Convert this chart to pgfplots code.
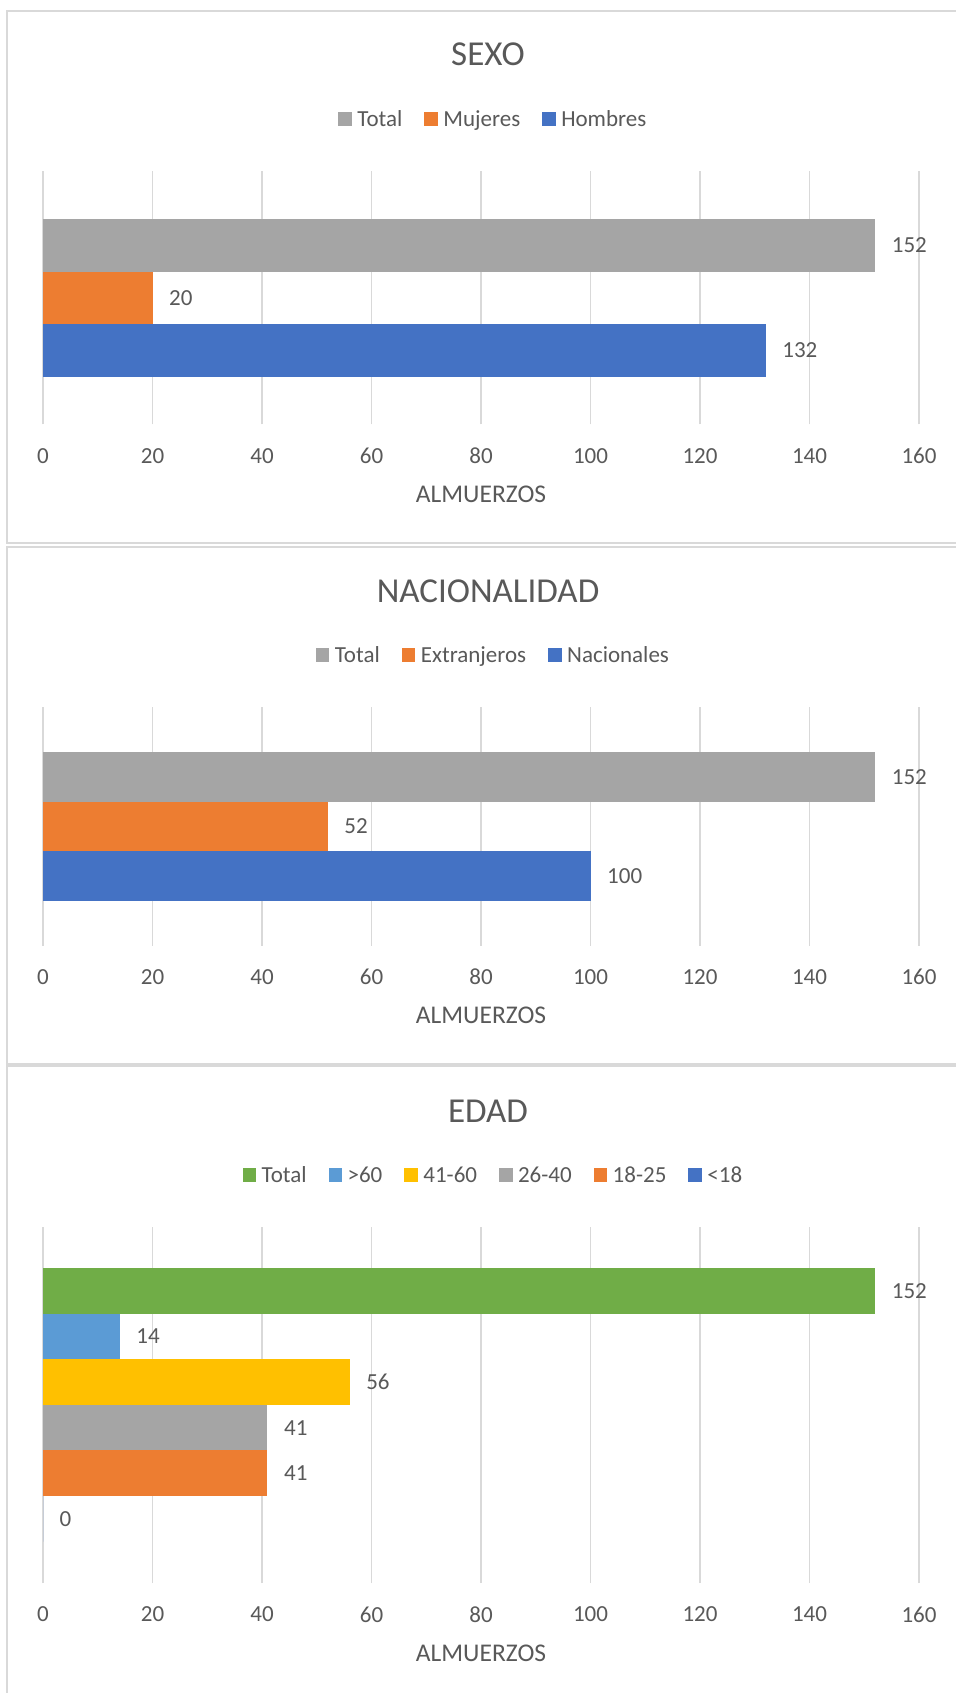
\documentclass[border=0pt]{standalone}
\usepackage{pgfplots}
\pgfplotsset{compat=1.18}
\usepackage{fontspec}
\setmainfont{Carlito}
\definecolor{txt}{HTML}{595959}
\definecolor{cgrid}{HTML}{D9D9D9}
\definecolor{cbord}{HTML}{D9D9D9}
\definecolor{cblue}{HTML}{4472C4}
\definecolor{corange}{HTML}{ED7D31}
\definecolor{cgray}{HTML}{A5A5A5}
\definecolor{cgold}{HTML}{FFC000}
\definecolor{clblue}{HTML}{5B9BD5}
\definecolor{cgreen}{HTML}{70AD47}
\newcommand\fsmall{\fontsize{23}{27}\selectfont}
\newcommand\flabel{\fontsize{25.5}{30}\selectfont}
\newcommand\ftitle{\fontsize{35}{42}\selectfont}
\pgfplotsset{
  /pgf/number format/assume math mode=true,
  mybar/.style={xbar, bar shift=0pt, draw=none, fill=#1,
    legend image code/.code={\fill[#1] (0pt,-6.75pt) rectangle (13.5pt,6.75pt);}},
  panel/.style={scale only axis, width=876pt, anchor=south west,
    xmin=0, xmax=160, xtick={0,20,...,160}, ytick=\empty,
    axis line style={draw=none}, tick style={draw=none},
    xmajorgrids, major grid style={draw=cgrid, line width=1.5pt},
    clip=false,
    tick label style={font=\fsmall, text=txt},
    xticklabel style={anchor=center, yshift=-31.5pt},
    xlabel=ALMUERZOS,
    xlabel style={at={(axis description cs:0.5,0)}, anchor=center, yshift=-70pt, font=\flabel, text=txt},
    point meta=x,
    nodes near coords,
    every node near coord/.append style={anchor=west, inner sep=0pt, xshift=16.5pt, font=\fsmall, text=txt},
    legend columns=-1,
    legend style={draw=none, fill=none, at={(0.513,1)}, anchor=center, yshift=51.7pt,
      font=\fsmall, text=txt, inner sep=0pt, nodes={inner sep=0pt},
      /tikz/every odd column/.append style={column sep=5.5pt},
      /tikz/every even column/.append style={column sep=22pt}},
  }
}
\begin{document}
\begin{tikzpicture}
\path[use as bounding box, fill=white] (0pt,0pt) rectangle (955pt,-1693pt);
\draw[cbord, line width=2pt] (7.3pt,-10.7pt) rectangle (975pt,-543pt);
\draw[cbord, line width=2pt] (7.3pt,-547pt) rectangle (975pt,-1064pt);
\draw[cbord, line width=2pt] (7.3pt,-1066pt) rectangle (975pt,-1710pt);
\node[font=\ftitle, text=txt] at (488pt,-54.3pt) {SEXO};
\node[font=\ftitle, text=txt] at (488pt,-591.4pt) {NACIONALIDAD};
\node[font=\ftitle, text=txt] at (488pt,-1111.7pt) {EDAD};

% Panel 1: SEXO
\begin{axis}[panel, at={(43pt,-424.3pt)}, height=253.6pt, ymin=-424.3, ymax=-170.7]
\addplot[mybar=cgray, bar width=52.65pt] coordinates {(152,-245.2)};
\addlegendentry{Total}
\addplot[mybar=corange, bar width=52.65pt] coordinates {(20,-297.85)};
\addlegendentry{Mujeres}
\addplot[mybar=cblue, bar width=52.65pt] coordinates {(132,-350.5)};
\addlegendentry{Hombres}
\end{axis}

% Panel 2: NACIONALIDAD
\begin{axis}[panel, at={(43pt,-945.7pt)}, height=238.9pt, ymin=-945.7, ymax=-706.8]
\addplot[mybar=cgray, bar width=49.63pt] coordinates {(152,-776.9)};
\addlegendentry{Total}
\addplot[mybar=corange, bar width=49.63pt] coordinates {(52,-826.55)};
\addlegendentry{Extranjeros}
\addplot[mybar=cblue, bar width=49.63pt] coordinates {(100,-876.2)};
\addlegendentry{Nacionales}
\end{axis}

% Panel 3: EDAD
\begin{axis}[panel, at={(43pt,-1583pt)}, height=356.3pt, ymin=-1583, ymax=-1226.7]
\addplot[mybar=cgreen, bar width=45.62pt] coordinates {(152,-1290.7)};
\addlegendentry{Total}
\addplot[mybar=clblue, bar width=45.62pt] coordinates {(14,-1336.3)};
\addlegendentry{>60}
\addplot[mybar=cgold, bar width=45.62pt] coordinates {(56,-1381.9)};
\addlegendentry{41-60}
\addplot[mybar=cgray, bar width=45.62pt] coordinates {(41,-1427.6)};
\addlegendentry{26-40}
\addplot[mybar=corange, bar width=45.62pt] coordinates {(41,-1473.2)};
\addlegendentry{18-25}
\addplot[mybar=cblue, bar width=45.62pt] coordinates {(0,-1518.8)};
\addlegendentry{<18}
\end{axis}
\end{tikzpicture}
\end{document}
